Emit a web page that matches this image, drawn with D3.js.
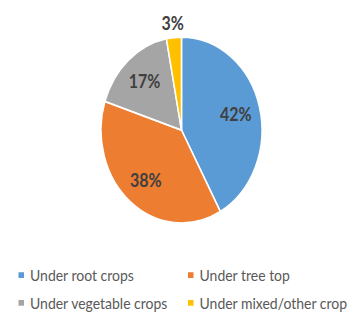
<!DOCTYPE html>
<html>
<head>
<meta charset="utf-8">
<script src="https://cdn.jsdelivr.net/npm/d3@7"></script>
<style>
  body { margin: 0; background: #fff; }
  svg { display: block; }
</style>
</head>
<body>
<div id="chart"></div>
<script>
// data
const categories = ["Under root crops", "Under tree top", "Under vegetable crops", "Under mixed/other crop"];
const shares = [42, 38, 17, 3];
const colors = ["#5B9BD5", "#ED7D31", "#A5A5A5", "#FFC000"];

const width = 354, height = 313;
// the original picture is stretched vertically
const sy = 1.155;
const cx = 181.5, cy = 112.6;
const radius = 80.5;

const svg = d3.select("#chart").append("svg")
  .attr("width", width)
  .attr("height", height);

const g = svg.append("g").attr("transform", "scale(1," + sy + ")");

const pie = d3.pie().sort(null).value(d => d);
const arcs = pie(shares);

const arc = d3.arc().innerRadius(0).outerRadius(radius);
const labelArc = d3.arc().innerRadius(56).outerRadius(56);
const outerArc = d3.arc().innerRadius(93).outerRadius(93);

const pieG = g.append("g").attr("transform", "translate(" + cx + "," + cy + ")");

pieG.selectAll("path")
  .data(arcs)
  .enter()
  .append("path")
  .attr("d", arc)
  .attr("fill", (d, i) => colors[i])
  .attr("stroke", "#fff")
  .attr("stroke-width", 1.5)
  .attr("stroke-linejoin", "round");

pieG.selectAll("text")
  .data(arcs)
  .enter()
  .append("text")
  .attr("transform", d => {
    // small slice gets its label outside
    const p = (d.endAngle - d.startAngle) < 0.3 ? outerArc.centroid(d) : labelArc.centroid(d);
    return "translate(" + p[0] + "," + p[1] + ")";
  })
  .attr("text-anchor", "middle")
  .attr("dy", "0.36em")
  .attr("font-family", "Lato, 'Open Sans', sans-serif")
  .attr("font-size", 16)
  .attr("font-weight", "bold")
  .attr("fill", "#404040")
  .text(d => d.data + "%");

// legend, two columns
const legendX = [18.5, 188];
const legendY = [243.3, 267.3];

const legend = g.selectAll(".legend")
  .data(categories)
  .enter()
  .append("g")
  .attr("class", "legend")
  .attr("transform", (d, i) => "translate(" + legendX[i % 2] + "," + legendY[Math.floor(i / 2)] + ")");

legend.append("rect")
  .attr("x", 0)
  .attr("y", -7.6)
  .attr("width", 5.5)
  .attr("height", 5)
  .attr("fill", (d, i) => colors[i]);

legend.append("text")
  .attr("x", 11.5)
  .attr("y", 0)
  .attr("font-family", "Lato, 'Open Sans', sans-serif")
  .attr("font-size", 14)
  .attr("fill", "#595959")
  .text(d => d);
</script>
</body>
</html>
